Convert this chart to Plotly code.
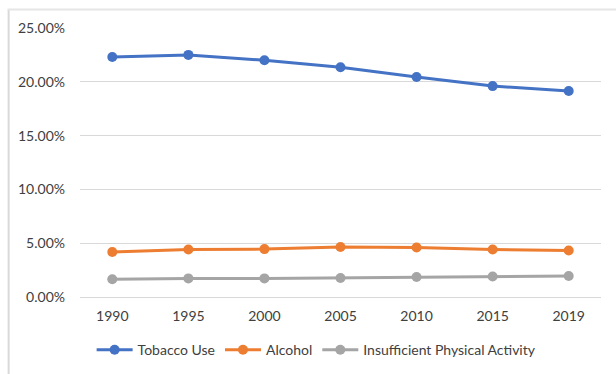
import plotly.graph_objects as go

years = ["1990", "1995", "2000", "2005", "2010", "2015", "2019"]
tobacco = [0.223, 0.225, 0.220, 0.2135, 0.2045, 0.196, 0.1915]
alcohol = [0.0418, 0.0442, 0.0445, 0.0465, 0.046, 0.0442, 0.0432]
inactivity = [0.0165, 0.0173, 0.0173, 0.0177, 0.0186, 0.019, 0.0195]

series = [
    ("Tobacco Use", tobacco, "#4472C4"),
    ("Alcohol", alcohol, "#ED7D31"),
    ("Insufficient Physical Activity", inactivity, "#A5A5A5"),
]

fig = go.Figure()
for name, vals, col in series:
    fig.add_trace(go.Scatter(
        x=years, y=vals, name=name, mode="lines+markers",
        line=dict(color=col, width=3), marker=dict(color=col, size=10),
    ))

fig.update_layout(
    width=616, height=374,
    margin=dict(l=80, r=15, t=28, b=77, autoexpand=False),
    paper_bgcolor="white", plot_bgcolor="white",
    font=dict(family="Lato, Open Sans, sans-serif", size=13, color="#404040"),
    xaxis=dict(type="category", showgrid=False, showline=False, ticks="",
               tickfont=dict(size=14, color="#404040"), ticklabelstandoff=9),
    yaxis=dict(range=[0, 0.25], dtick=0.05, tickformat=".2%",
               gridcolor="#D9D9D9", gridwidth=1, zeroline=True,
               zerolinecolor="#D9D9D9", zerolinewidth=1,
               tickfont=dict(size=14, color="#404040"), ticklabelstandoff=14),
    legend=dict(orientation="h", x=0.514, xanchor="center", xref="container",
                yref="container", y=0.064, yanchor="middle",
                font=dict(size=14, color="#404040"), itemwidth=36,
                tracegroupgap=0),
    showlegend=True,
)
# chart-area frame: left and top edges only
fig.add_shape(type="line", xref="paper", yref="paper",
              x0=-0.137, x1=-0.137, y0=1.069, y1=-0.29,
              line=dict(color="#D9D9D9", width=2), layer="below")
fig.add_shape(type="line", xref="paper", yref="paper",
              x0=-0.139, x1=1.03, y0=1.069, y1=1.069,
              line=dict(color="#E6E6E6", width=2), layer="below")

fig.write_html("out.html")
